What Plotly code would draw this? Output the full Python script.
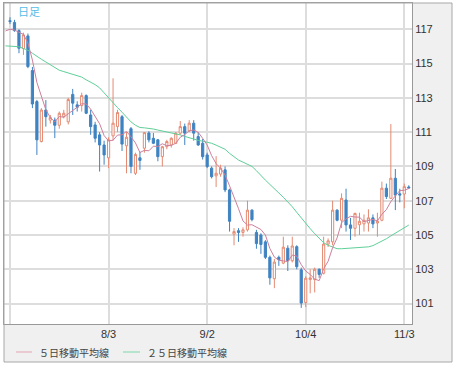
import pandas as pd
import plotly.graph_objects as go

# trading days (weekdays); first day only carries the moving averages
dates = [d.strftime("%Y-%m-%d") for d in pd.bdate_range("2016-07-01", "2016-11-04")]

opens = [None,
    117.5, 117.4, 116.92, 115.87, 116.61, 114.59, 112.78, 110.45, 112.29, 111.7,
    111.7, 111.4, 111.9, 111.6, 113.2, 112.59, 112.55, 113.13, 112.0, 111.42,
    110.84, 110.25, 109.5, 110.78, 111.32, 111.9, 110.2, 111.2, 108.6, 109.5,
    110.06, 110.95, 110.64, 110.55, 109.57, 110.15, 110.25, 110.35, 110.94, 111.32,
    111.07, 111.52, 110.74, 110.35, 109.67, 108.9, 108.45, 108.55, 108.8, 107.63,
    105.05, 105.25, 105.15, 105.3, 106.45, 105.15, 105.0, 104.6, 103.7, 102.45,
    103.7, 103.36, 104.23, 103.5, 104.32, 102.97, 101.06, 102.4, 102.4, 103.0,
    102.77, 104.47, 104.6, 106.45, 105.86, 107.04, 105.59, 105.39, 105.6, 105.65,
    105.7, 106.0, 105.7, 105.86, 107.73, 107.14, 108.31, 107.4, 107.39, 107.8]
highs = [None,
    117.7, 117.55, 117.0, 116.8, 116.75, 114.8, 112.88, 112.4, 112.87, 112.0,
    111.85, 112.2, 112.3, 113.0, 113.52, 112.8, 113.3, 113.2, 112.3, 111.6,
    111.0, 110.5, 110.7, 114.14, 112.3, 112.0, 111.0, 111.3, 109.8, 109.85,
    111.0, 111.05, 110.95, 110.6, 110.2, 110.55, 110.7, 111.0, 111.65, 111.5,
    111.7, 111.7, 111.0, 110.6, 109.8, 109.0, 109.6, 109.1, 109.0, 107.7,
    105.4, 105.4, 105.45, 107.0, 106.5, 105.3, 105.1, 104.7, 103.8, 103.6,
    103.8, 104.9, 104.4, 104.9, 104.4, 103.1, 102.6, 103.0, 103.1, 103.05,
    104.9, 104.8, 107.0, 106.5, 107.43, 107.7, 106.0, 106.3, 106.3, 106.2,
    106.5, 106.2, 106.3, 108.11, 108.0, 111.47, 108.85, 107.7, 108.0, 107.9]
lows = [None,
    117.3, 116.85, 115.6, 115.5, 114.73, 112.4, 109.67, 110.4, 111.32, 111.5,
    110.65, 111.2, 111.8, 111.45, 112.0, 112.2, 112.2, 112.05, 110.84, 110.4,
    108.7, 109.1, 108.9, 110.5, 111.0, 109.9, 108.6, 108.6, 108.5, 108.8,
    109.8, 110.4, 110.3, 109.3, 109.0, 110.0, 110.1, 110.3, 110.85, 110.25,
    111.0, 110.5, 110.2, 109.4, 108.9, 108.3, 107.8, 108.4, 107.5, 105.2,
    104.4, 104.6, 104.9, 105.2, 105.8, 104.2, 103.9, 103.6, 102.1, 101.9,
    103.2, 103.3, 102.9, 103.4, 103.0, 100.75, 100.8, 101.6, 101.65, 102.5,
    102.7, 104.3, 104.4, 105.8, 105.4, 105.2, 104.71, 104.9, 105.0, 105.2,
    105.2, 105.4, 104.9, 105.8, 107.1, 107.1, 106.45, 106.9, 106.56, 107.7]
closes = [None,
    117.45, 116.92, 115.89, 116.67, 114.82, 112.64, 110.55, 112.29, 111.9, 111.85,
    111.4, 112.1, 112.1, 112.9, 112.69, 112.45, 113.13, 112.1, 111.32, 110.64,
    110.25, 109.67, 110.55, 111.52, 112.14, 110.3, 110.7, 109.0, 109.7, 109.35,
    110.97, 110.55, 110.35, 109.57, 110.15, 110.45, 110.64, 110.94, 111.32, 110.94,
    111.52, 110.94, 110.25, 109.57, 108.99, 108.4, 108.6, 108.9, 107.63, 105.8,
    105.2, 105.15, 105.3, 106.45, 105.9, 104.5, 104.45, 103.7, 102.5, 103.42,
    103.56, 104.29, 103.5, 104.36, 103.15, 101.03, 102.48, 102.5, 103.0, 102.7,
    104.47, 104.66, 106.45, 105.86, 107.14, 105.59, 105.39, 106.26, 105.8, 105.86,
    106.0, 105.65, 105.8, 107.73, 107.24, 108.31, 107.33, 107.33, 107.82, 107.75]

ma5 = [116.9,
    117.0, 116.95, 116.8, 116.7, 116.2, 115.2, 113.9, 113.1, 112.3, 111.85,
    111.6, 111.91, 111.87, 112.07, 112.24, 112.45, 112.65, 112.65, 112.34, 111.93,
    111.49, 110.8, 110.49, 110.53, 110.83, 110.84, 111.04, 110.73, 110.37, 109.81,
    109.94, 109.91, 110.18, 110.16, 110.32, 110.21, 110.23, 110.35, 110.7, 110.86,
    111.07, 111.13, 110.99, 110.64, 110.25, 109.63, 109.16, 108.89, 108.5, 107.87,
    107.23, 106.54, 105.82, 105.58, 105.6, 105.46, 105.32, 105.0, 104.21, 103.71,
    103.53, 103.49, 103.45, 103.83, 103.77, 103.27, 102.9, 102.7, 102.43, 102.34,
    103.03, 103.47, 104.26, 104.83, 105.72, 105.94, 106.09, 106.05, 106.04, 105.78,
    105.86, 105.91, 105.82, 106.21, 106.48, 106.95, 107.28, 107.59, 107.61, 107.71]
ma25 = [116.03,
    116.02, 116.0, 115.98, 115.88, 115.77, 115.6, 115.41, 115.25, 115.09, 114.93,
    114.75, 114.61, 114.53, 114.46, 114.38, 114.29, 114.21, 114.05, 113.93, 113.77,
    113.58, 113.28, 112.98, 112.71, 112.43, 112.16, 111.88, 111.6, 111.4, 111.27,
    111.25, 111.23, 111.18, 111.12, 111.07, 111.02, 110.98, 110.91, 110.84, 110.75,
    110.66, 110.59, 110.52, 110.47, 110.42, 110.35, 110.24, 110.14, 110.0, 109.76,
    109.55, 109.37, 109.25, 109.13, 109.0, 108.75, 108.45, 108.2, 107.95, 107.67,
    107.45, 107.2, 106.93, 106.65, 106.32, 105.98, 105.67, 105.37, 105.08, 104.8,
    104.55, 104.4, 104.28, 104.2, 104.2, 104.22, 104.24, 104.25, 104.27, 104.28,
    104.31, 104.38, 104.5, 104.65, 104.78, 104.95, 105.1, 105.25, 105.42, 105.58]

tick_dates = ["2016-07-04", "2016-08-03", "2016-09-02", "2016-10-04", "2016-11-03"]
tick_text = ["", "8/3", "9/2", "10/4", "11/3"]
y_ticks = [101, 103, 105, 107, 109, 111, 113, 115, 117]

legend_names = ["５日移動平均線", "２５日移動平均線"]
chart_label = "日足"

RED = "#e58a72"
BLUE = "#3f83c2"
PINK = "#cf7f9c"
GREEN = "#5fcf98"

fig = go.Figure()
fig.add_trace(go.Candlestick(
    x=dates, open=opens, high=highs, low=lows, close=closes,
    increasing=dict(line=dict(color=RED, width=1), fillcolor="#ffffff"),
    decreasing=dict(line=dict(color=BLUE, width=1), fillcolor=BLUE),
    showlegend=False, hoverinfo="skip"))
fig.add_trace(go.Scatter(x=dates, y=ma25, mode="lines",
                         line=dict(color=GREEN, width=1), showlegend=False))
fig.add_trace(go.Scatter(x=dates, y=ma5, mode="lines",
                         line=dict(color=PINK, width=1), showlegend=False))

W, H = 455, 368
L, R, T, B = 4, 412, 3, 324
pw, ph = R - L, B - T


def px(x):
    return (x - L) / pw


def py(y):
    return (B - y) / ph


shapes = [
    dict(type="rect", xref="paper", yref="paper", x0=1, x1=px(452), y0=py(362), y1=1,
         fillcolor="#f0f0f0", line=dict(width=0), layer="below"),
    dict(type="rect", xref="paper", yref="paper", x0=0, x1=px(452), y0=py(362), y1=0,
         fillcolor="#f0f0f0", line=dict(width=0), layer="below"),
    dict(type="rect", xref="paper", yref="paper", x0=0, x1=px(452), y0=py(362), y1=1,
         fillcolor="rgba(0,0,0,0)", line=dict(color="#a8a8a8", width=1), layer="above"),
    dict(type="line", xref="paper", yref="paper", x0=px(16), x1=px(32), y0=py(352), y1=py(352),
         line=dict(color="#e7a3b6", width=1)),
    dict(type="line", xref="paper", yref="paper", x0=px(123), x1=px(140), y0=py(352), y1=py(352),
         line=dict(color="#7fd8ad", width=1)),
]

annotations = [
    dict(xref="paper", yref="paper", x=px(16), y=py(11), text=chart_label, showarrow=False,
         xanchor="left", yanchor="middle",
         font=dict(family="Noto Sans CJK JP", size=11, color="#55bde8")),
    dict(xref="paper", yref="paper", x=px(37), y=py(352), text=legend_names[0], showarrow=False,
         xanchor="left", yanchor="middle",
         font=dict(family="Noto Sans CJK JP", size=10, color="#444444")),
    dict(xref="paper", yref="paper", x=px(145), y=py(352), text=legend_names[1], showarrow=False,
         xanchor="left", yanchor="middle",
         font=dict(family="Noto Sans CJK JP", size=10, color="#444444")),
]

fig.update_layout(
    width=W, height=H,
    margin=dict(l=L, r=W - R, t=T, b=H - B, pad=0),
    paper_bgcolor="#ffffff", plot_bgcolor="#ffffff",
    showlegend=False,
    shapes=shapes, annotations=annotations,
    font=dict(family="Liberation Sans", size=11, color="#333333"),
)
fig.update_xaxes(
    type="category", range=[-0.34, 90.72], rangeslider=dict(visible=False),
    tickmode="array", tickvals=tick_dates, ticktext=tick_text,
    showgrid=True, gridcolor="#dddddd", gridwidth=1.5,
    showline=True, linecolor="#999999", linewidth=1, mirror=True,
    ticks="", tickfont=dict(size=11, color="#333333"), automargin=False, fixedrange=True)
fig.update_yaxes(
    side="right", range=[99.81, 118.53],
    tickmode="array", tickvals=y_ticks, ticktext=[str(v) for v in y_ticks],
    showgrid=True, gridcolor="#dddddd", gridwidth=1.5, zeroline=False,
    showline=True, linecolor="#999999", linewidth=1, mirror=True,
    ticks="", tickfont=dict(size=11, color="#333333"), automargin=False, fixedrange=True)

fig.write_html("out.html", config={"displayModeBar": False},
               post_script="document.body.style.margin='0';")
